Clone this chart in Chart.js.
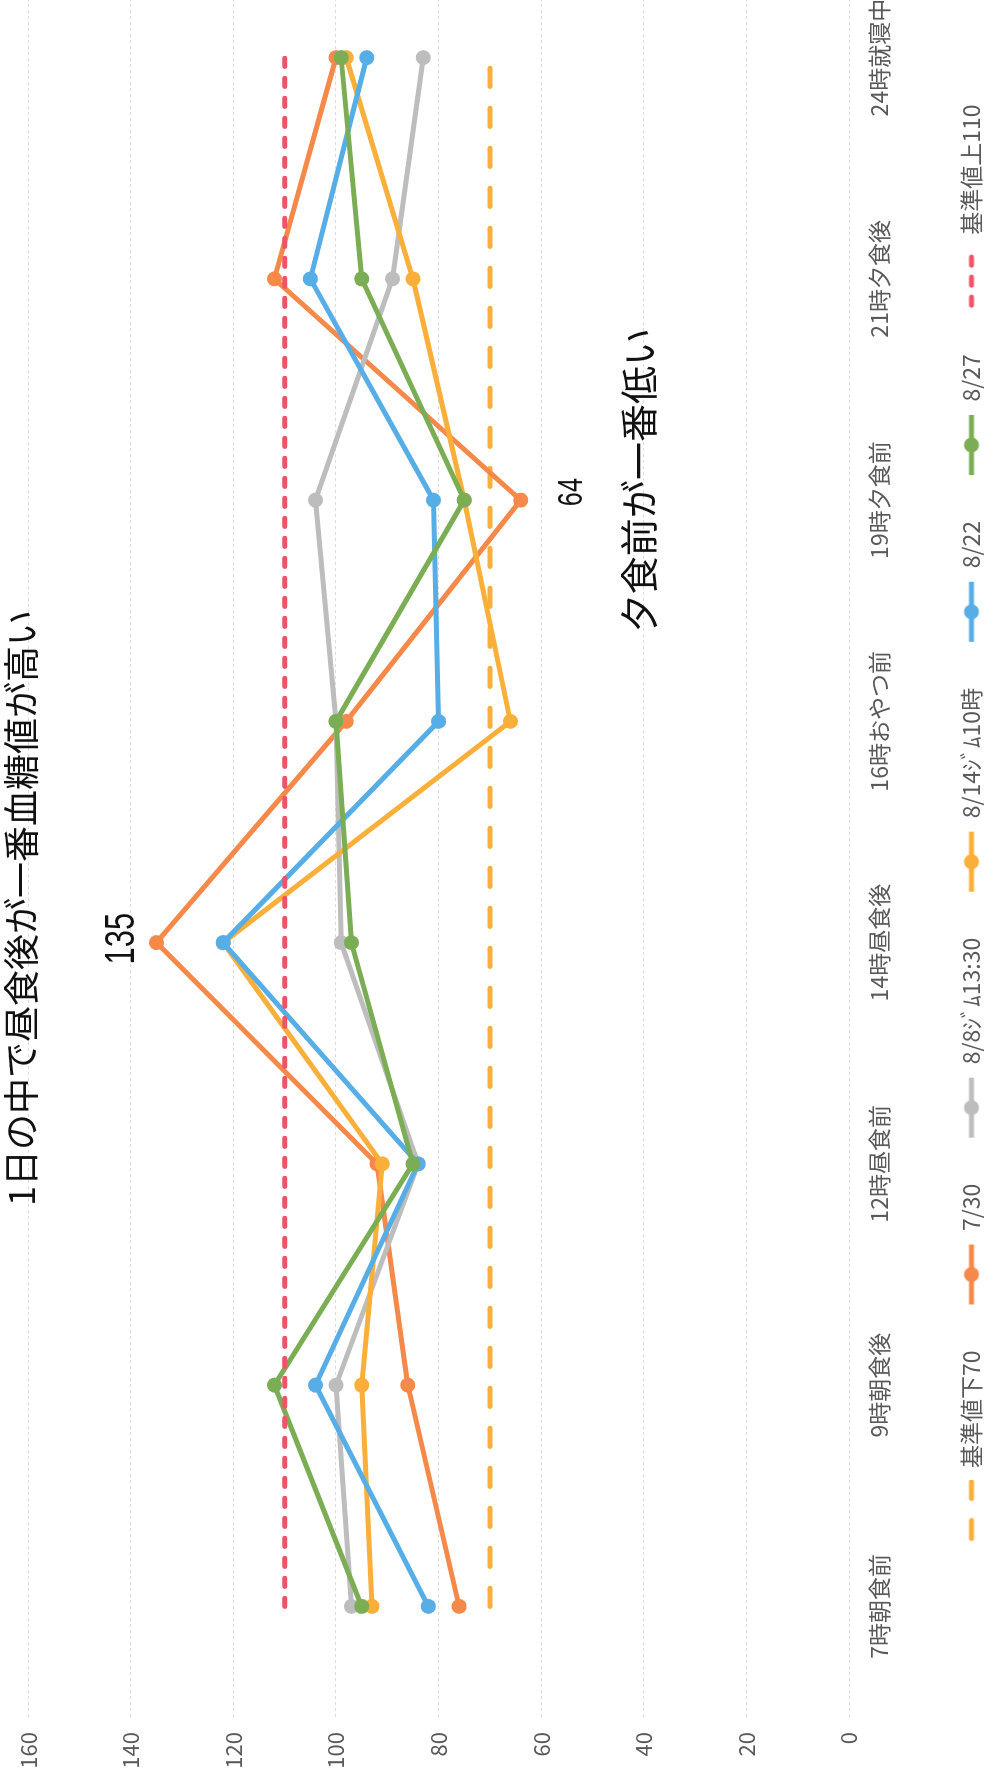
<!DOCTYPE html>
<html>
<head>
<meta charset="utf-8">
<script src="https://cdn.jsdelivr.net/npm/chart.js@4.4.1/dist/chart.umd.min.js"></script>
<style>
html, body { margin:0; padding:0; background:#fff; overflow:hidden; width:993px; height:1781px; }
#wrap { position:absolute; left:0; top:0; width:1960px; height:993px; transform-origin:0 0; transform:translate(0, 1781px) rotate(-90deg); }
</style>
</head>
<body>
<div id="wrap"><canvas id="chart" width="1960" height="993"></canvas></div>
<script>
// 時間帯
const labels = ["7時朝食前", "9時朝食後", "12時昼食前", "14時昼食後", "16時おやつ前", "19時夕食前", "21時夕食後", "24時就寝中"];
// 血糖値
const low70   = [70, 70, 70, 70, 70, 70, 70, 70];
const d0730   = [76, 86, 92, 135, 98, 64, 112, 100];
const d0808   = [97, 100, 84, 99, 100, 104, 89, 83];
const d0814   = [93, 95, 91, 122, 66, 75, 85, 98];
const d0822   = [82, 104, 84, 122, 80, 81, 105, 94];
const d0827   = [95, 112, 85, 97, 100, 75, 95, 99];
const high110 = [110, 110, 110, 110, 110, 110, 110, 110];
const yMin = 0, yMax = 160, yStep = 20;

const title = "1日の中で昼食後が一番血糖値が高い";
const noteLow = "夕食前が一番低い";

const FONT = '"Noto Sans CJK JP", "Noto Sans", sans-serif';
Chart.defaults.font.family = FONT;
Chart.defaults.color = '#595959';

// 凡例アイコン (右寄せで描いて左側は余白にする)
const ICON_W = 100;
function legendIcon(color, dash, dot) {
    const c = document.createElement('canvas');
    c.width = ICON_W; c.height = 20;
    const g = c.getContext('2d');
    g.strokeStyle = color;
    g.lineWidth = 5;
    g.lineCap = dash ? 'round' : 'butt';
    g.setLineDash(dash || []);
    g.beginPath();
    g.moveTo(ICON_W - 62 + (dash ? 3 : 0), 10);
    g.lineTo(ICON_W - 2, 10);
    g.stroke();
    if (dot) {
        g.fillStyle = color;
        g.beginPath();
        g.arc(ICON_W - 32, 10, 7.5, 0, Math.PI * 2);
        g.fill();
    }
    return c;
}

function series(label, data, color, order) {
    return {
        label: label, data: data, order: order,
        borderColor: color, backgroundColor: color,
        borderWidth: 5, pointRadius: 7.5, pointHoverRadius: 7.5,
        pointBackgroundColor: color, pointBorderWidth: 0,
        borderJoinStyle: 'round', tension: 0,
        icon: legendIcon(color, null, true)
    };
}
function refLine(label, data, color, dash, order) {
    return {
        label: label, data: data, order: order,
        borderColor: color, backgroundColor: color,
        borderWidth: 5, borderDash: dash, borderCapStyle: 'round',
        pointRadius: 0, pointHoverRadius: 0,
        icon: legendIcon(color, dash, false)
    };
}

const notes = {
    id: 'notes',
    afterLayout(chart) {
        // 凡例を少し右へ
        if (chart.legend) { chart.legend.left += 22; chart.legend.right += 22; }
    },
    afterDatasetsDraw(chart) {
        const ctx = chart.ctx, x = chart.scales.x, y = chart.scales.y;
        ctx.save();
        ctx.fillStyle = '#111';
        ctx.textAlign = 'center';
        ctx.textBaseline = 'middle';
        ctx.font = '36px ' + FONT;
        ctx.fillText(title, 873, 21);

        function narrow(text, cx, cy, size) {
            ctx.save();
            ctx.translate(cx, cy);
            ctx.scale(0.72, 1);
            ctx.font = size + 'px "Liberation Sans", sans-serif';
            ctx.fillText(text, 0, 0);
            ctx.restore();
        }
        narrow(String(Math.max(...d0730)), x.getPixelForValue(3) + 4, y.getPixelForValue(135) - 34, 43);
        narrow(String(Math.min(...d0730)), x.getPixelForValue(5) + 8, y.getPixelForValue(64) + 52, 35);

        ctx.font = '38px ' + FONT;
        ctx.fillText(noteLow, x.getPixelForValue(5) + 20, y.getPixelForValue(41));
        ctx.restore();
    }
};

new Chart(document.getElementById('chart'), {
    type: 'line',
    data: {
        labels: labels,
        datasets: [
            refLine("基準値下70", low70, '#F9AF3C', [18, 22], 7),
            series("7/30", d0730, '#F5894A', 6),
            series("8/8ｼﾞﾑ13:30", d0808, '#BDBDBD', 5),
            series("8/14ｼﾞﾑ10時", d0814, '#FAAF3A', 4),
            series("8/22", d0822, '#57ADE6', 3),
            series("8/27", d0827, '#7BAD55', 2),
            refLine("基準値上110", high110, '#EE5468', [8, 12], 1)
        ]
    },
    options: {
        responsive: false,
        animation: false,
        devicePixelRatio: 1,
        layout: { padding: { top: 22, right: 126, left: 0, bottom: 0 } },
        scales: {
            x: {
                offset: true,
                grid: { display: false, drawTicks: false },
                border: { display: false },
                ticks: { font: { size: 23 }, color: '#595959', padding: 16, maxRotation: 0, autoSkip: false },
                afterFit: function(s) { s.height = 103; }
            },
            y: {
                min: yMin, max: yMax,
                grid: { color: '#dcdcdc', lineWidth: 1, drawTicks: false },
                border: { display: false, dash: [3, 3] },
                ticks: { stepSize: yStep, font: { size: 22 }, color: '#595959', padding: 15 },
                afterFit: function(s) { s.width = 64; }
            }
        },
        plugins: {
            title: { display: false },
            tooltip: { enabled: false },
            legend: {
                position: 'bottom',
                labels: {
                    usePointStyle: true,
                    pointStyleWidth: ICON_W,
                    padding: 8,
                    font: { size: 23 },
                    color: '#595959',
                    sort: (a, b) => a.datasetIndex - b.datasetIndex,
                    generateLabels: function(chart) {
                        const items = Chart.defaults.plugins.legend.labels.generateLabels(chart);
                        items.forEach(it => { it.pointStyle = chart.data.datasets[it.datasetIndex].icon; });
                        return items;
                    }
                }
            }
        }
    },
    plugins: [notes]
});
</script>
</body>
</html>
